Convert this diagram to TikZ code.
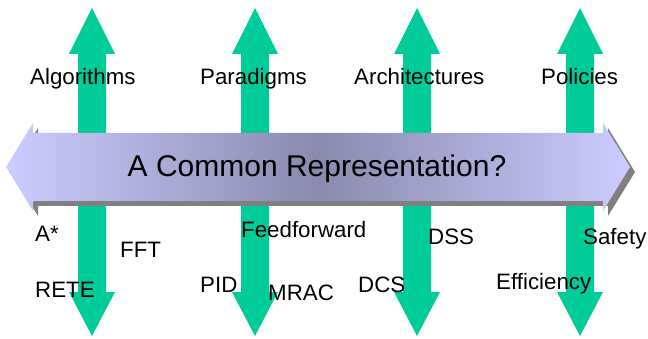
\documentclass[tikz,border=0pt]{standalone}
\usepackage{fontspec}
\setmainfont{Liberation Sans}
\definecolor{arrowgreen}{RGB}{0,204,153}
\definecolor{lav}{RGB}{204,204,255}
\definecolor{lavdark}{RGB}{138,138,174}
\definecolor{shadowgray}{RGB}{128,128,128}
\pgfdeclarehorizontalshading{bandshade}{100bp}{color(0bp)=(lav); color(25bp)=(lav); color(50bp)=(lavdark); color(75bp)=(lav); color(100bp)=(lav)}
\tikzset{
  lbl/.style={anchor=base west, inner sep=0pt, font=\fontsize{22.3}{26}\selectfont},
  titletext/.style={anchor=base, inner sep=0pt, font=\fontsize{30}{34}\selectfont},
  greenarrow/.pic={
    \fill[arrowgreen] (0,8) -- (23,54) -- (14,54) -- (14,292) -- (23,292) -- (0,336)
      -- (-23,292) -- (-14,292) -- (-14,54) -- (-23,54) -- cycle;
  }
}
\begin{document}
\begin{tikzpicture}[x=1pt,y=-1pt]
\useasboundingbox (0,0) rectangle (648,339);
% vertical green double arrows
\pic at (92,0) {greenarrow};
\pic at (255,0) {greenarrow};
\pic at (417,0) {greenarrow};
\pic at (580,0) {greenarrow};
% shadow of the big arrow
\fill[shadowgray] ([shift={(5,5)}]6,167) -- ++(27,-44) -- ++(0,10) -- ++(570,0) -- ++(0,-10)
  -- ++(27,44) -- ++(-27,44) -- ++(0,-10) -- ++(-570,0) -- ++(0,10) -- cycle;
% big horizontal double arrow
\shade[shading=bandshade] (6,167) -- (33,123) -- (33,133) -- (603,133) -- (603,123)
  -- (630,167) -- (603,211) -- (603,201) -- (33,201) -- (33,211) -- cycle;
\node[titletext] (title) at (317,177) {A Common Representation?};
% upper labels
\node[lbl] (alg) at (30,85) {Algorithms};
\node[lbl] (par) at (200,85) {Paradigms};
\node[lbl] (arc) at (354,85) {Architectures};
\node[lbl] (pol) at (541,85) {Policies};
% lower labels
\node[lbl] (astar) at (35,241) {A*};
\node[lbl] (fft) at (120,258) {FFT};
\node[lbl] (rete) at (35,297) {RETE};
\node[lbl] (ffw) at (241,238) {Feedforward};
\node[lbl] (pid) at (200,292) {PID};
\node[lbl] (mrac) at (268,300) {MRAC};
\node[lbl] (dcs) at (358,292) {DCS};
\node[lbl] (dss) at (428,244) {DSS};
\node[lbl] (eff) at (496,289) {Efficiency};
\node[lbl] (saf) at (583,244) {Safety};
\end{tikzpicture}
\end{document}
